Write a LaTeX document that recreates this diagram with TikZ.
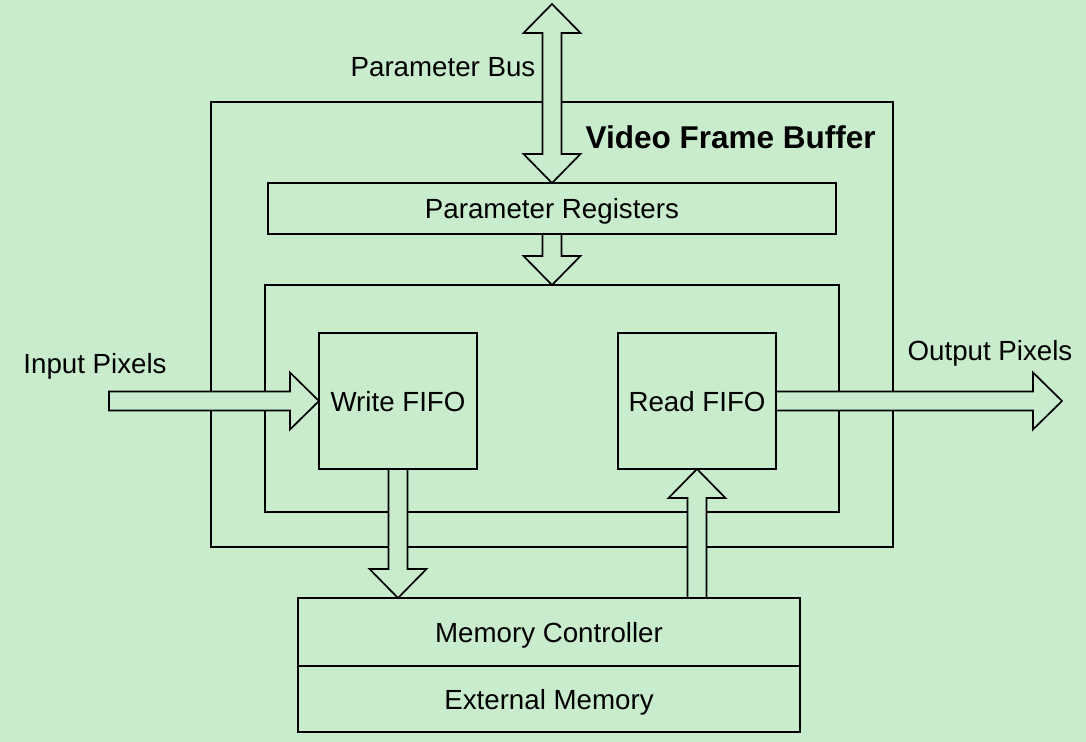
\documentclass[tikz,border=0pt]{standalone}
\usepackage{fontspec}
\setmainfont{Liberation Sans}
\usepackage{tikz}
\usetikzlibrary{positioning, calc}
\definecolor{vfb_green}{RGB}{200,236,204}
\colorlet{bggreen}{vfb_green}
\newcommand{\shafthalf}{0.2375cm}
\newcommand{\headhalf}{0.7125cm}
\newcommand{\headlen}{0.725cm}
\tikzset{
  block/.style={rectangle,draw=black,line width=1.2pt,fill=none,inner sep=0pt,outer sep=0pt,
    text depth=0pt,font=\fontsize{19.7}{23}\selectfont},
  lbl/.style={inner sep=0pt,font=\fontsize{19.7}{23}\selectfont},
  titlelbl/.style={inner sep=0pt,font=\fontsize{22.4}{26}\selectfont\bfseries},
  fatarrow/.style={draw=black,fill=bggreen,line width=1.2pt,line join=miter},
}
% block arrow from #1 to #2, head at #2
\newcommand{\blockarrow}[2]{
  \coordinate (hb) at ($(#2)!\headlen!(#1)$);
  \draw[fatarrow] ($(#1)!\shafthalf!90:(#2)$) -- ($(hb)!\shafthalf!90:(#2)$)
    -- ($(hb)!\headhalf!90:(#2)$) -- (#2) -- ($(hb)!\headhalf!-90:(#2)$)
    -- ($(hb)!\shafthalf!-90:(#2)$) -- ($(#1)!\shafthalf!-90:(#2)$) -- cycle;
}
% block arrow with heads at both ends
\newcommand{\dblockarrow}[2]{
  \coordinate (ha) at ($(#1)!\headlen!(#2)$);
  \coordinate (hb) at ($(#2)!\headlen!(#1)$);
  \draw[fatarrow] (#1) -- ($(ha)!\headhalf!90:(#2)$) -- ($(ha)!\shafthalf!90:(#2)$)
    -- ($(hb)!\shafthalf!90:(#2)$) -- ($(hb)!\headhalf!90:(#2)$) -- (#2)
    -- ($(hb)!\headhalf!-90:(#2)$) -- ($(hb)!\shafthalf!-90:(#2)$)
    -- ($(ha)!\shafthalf!-90:(#2)$) -- ($(ha)!\headhalf!-90:(#2)$) -- cycle;
}

\begin{document}
\begin{tikzpicture}[x=0.025cm,y=-0.025cm]
	\path[use as bounding box,fill=bggreen] (0,0) rectangle (1086,742);
	\node[block,minimum width=17.05cm,minimum height=11.125cm] (vfb) at (552,324.5) {};
	\node[titlelbl,anchor=east] (title) at (876,137) {Video Frame Buffer};
	\node[block,minimum width=14.2cm,minimum height=1.275cm] (paramreg) at (552,208.5) {Parameter Registers};
	\node[block,minimum width=14.35cm,minimum height=5.675cm] (inner) at (552,398.5) {};
	\node[block,minimum width=3.95cm,minimum height=3.4cm] (wfifo) at (398,401) {Write FIFO};
	\node[block,minimum width=3.95cm,minimum height=3.4cm] (rfifo) at (697,401) {Read FIFO};
	\node[block,minimum width=12.55cm,minimum height=1.7cm] (memctrl) at (549,632) {Memory Controller};
	\node[block,minimum width=12.55cm,minimum height=1.65cm,below=0cm of memctrl] (extmem) {External Memory};
	\node[lbl] (buslbl) at (443,67) {Parameter Bus};
	\node[lbl] (inlbl) at (95,366) {Input Pixels};
	\node[lbl] (outlbl) at (990,353) {Output Pixels};
	\coordinate (busend) at (552,4);
	\coordinate (instart) at (109,401);
	\coordinate (outend) at (1062,401);
	\dblockarrow{busend}{paramreg.north}
	\blockarrow{paramreg.south}{inner.north}
	\blockarrow{instart}{wfifo.west}
	\blockarrow{rfifo.east}{outend}
	\blockarrow{wfifo.south}{wfifo.south |- memctrl.north}
	\blockarrow{rfifo.south |- memctrl.north}{rfifo.south}
\end{tikzpicture}
\end{document}
